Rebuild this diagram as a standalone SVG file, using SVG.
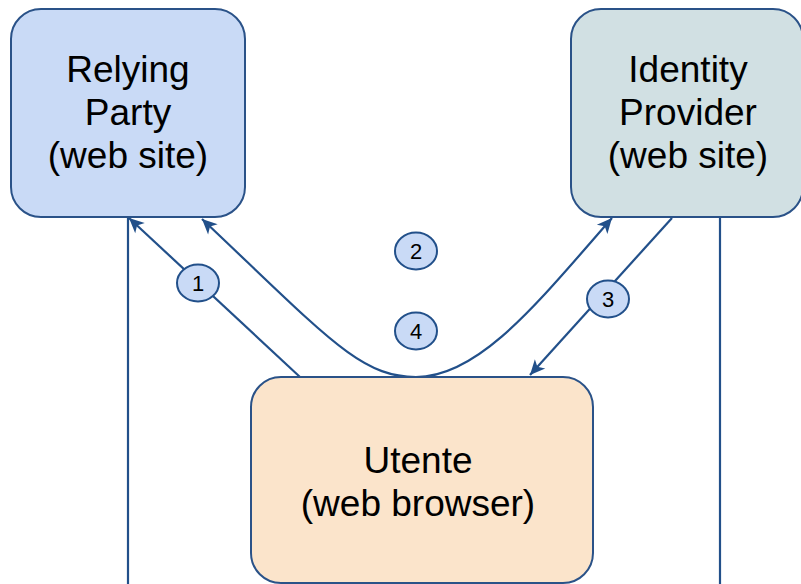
<svg xmlns="http://www.w3.org/2000/svg" width="801" height="584" viewBox="0 0 801 584">
<style>
.box{stroke:#2a5288;stroke-width:2}
.lbl{font-family:"Liberation Sans",Arial,sans-serif;font-size:37px;fill:#000;text-anchor:middle}
.num{font-family:"Liberation Sans",Arial,sans-serif;font-size:22px;fill:#000;text-anchor:middle}
.conn{fill:none;stroke:#22508a;stroke-width:2.2}
.badge{fill:#c9daf6;stroke:#22508a;stroke-width:2}
</style>
<defs>
<marker id="arr" viewBox="-16 -8 18 16" refX="0" refY="0" markerWidth="18" markerHeight="16" markerUnits="userSpaceOnUse" orient="auto-start-reverse">
<path d="M0,0 L-15,-7 L-11,0 L-15,7 Z" fill="#22508a"/>
</marker>
</defs>
<rect width="801" height="584" fill="#fff"/>
<g id="connectors">
<line class="conn" x1="128" y1="217" x2="128" y2="584"/>
<line class="conn" x1="720" y1="217" x2="720" y2="584"/>
<line class="conn" x1="300" y1="377" x2="129" y2="218" marker-end="url(#arr)"/>
<path class="conn" d="M202,219 C328,338 360,377 416,377 C480,377 540,300 612,218" marker-start="url(#arr)" marker-end="url(#arr)"/>
<line class="conn" x1="672" y1="218" x2="530" y2="375" marker-end="url(#arr)"/>
</g>
<g id="rp">
<rect class="box" x="11" y="9" width="234" height="208" rx="30" fill="#c9daf6"/>
<text class="lbl" x="128" y="82">Relying</text>
<text class="lbl" x="128" y="125">Party</text>
<text class="lbl" x="128" y="168">(web site)</text>
</g>
<g id="idp">
<rect class="box" x="571" y="9" width="232" height="208" rx="30" fill="#d1e0e3"/>
<text class="lbl" x="688" y="82">Identity</text>
<text class="lbl" x="688" y="125">Provider</text>
<text class="lbl" x="688" y="168">(web site)</text>
</g>
<g id="utente">
<rect class="box" x="251" y="377" width="342" height="206" rx="30" fill="#fbe4cb"/>
<text class="lbl" x="418" y="473">Utente</text>
<text class="lbl" x="418" y="516">(web browser)</text>
</g>
<g id="b1"><ellipse class="badge" cx="198" cy="283" rx="21" ry="18.5"/><text class="num" x="198" y="291">1</text></g>
<g id="b2"><ellipse class="badge" cx="416" cy="251" rx="21" ry="18.5"/><text class="num" x="416" y="259">2</text></g>
<g id="b4"><ellipse class="badge" cx="416" cy="331" rx="21" ry="18.5"/><text class="num" x="416" y="339">4</text></g>
<g id="b3"><ellipse class="badge" cx="608" cy="299" rx="21" ry="18.5"/><text class="num" x="608" y="307">3</text></g>
</svg>
